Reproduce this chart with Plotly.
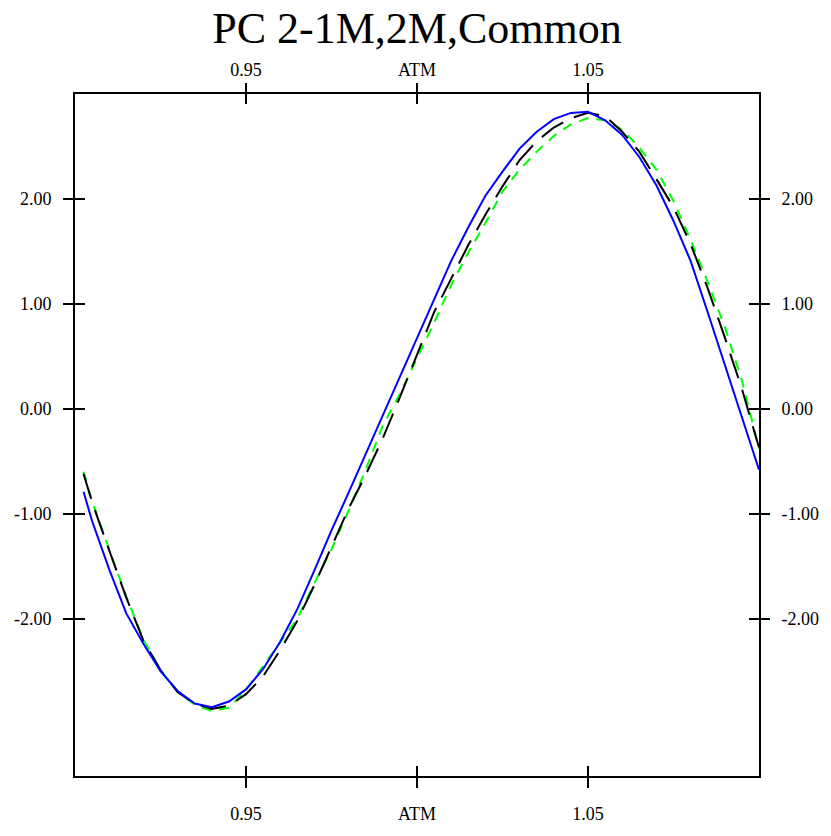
import plotly.graph_objects as go

# x grid (moneyness)
x_vals = [0.9025, 0.905, 0.910, 0.915, 0.920, 0.925, 0.930, 0.935, 0.940, 0.945,
          0.950, 0.955, 0.960, 0.965, 0.970, 0.975, 0.980, 0.985, 0.990, 0.995,
          1.000, 1.005, 1.010, 1.015, 1.020, 1.025, 1.030, 1.035, 1.040, 1.045,
          1.050, 1.055, 1.060, 1.065, 1.070, 1.075, 1.080, 1.085, 1.090, 1.095,
          1.100]

blue_1m = [-0.79, -1.07, -1.53, -1.95, -2.24, -2.50, -2.69, -2.81, -2.845, -2.79,
           -2.675, -2.48, -2.22, -1.91, -1.54, -1.16, -0.80, -0.43, -0.06, 0.31,
           0.68, 1.05, 1.41, 1.73, 2.03, 2.26, 2.48, 2.64, 2.76, 2.82,
           2.83, 2.75, 2.61, 2.40, 2.13, 1.79, 1.41, 0.92, 0.42, -0.07,
           -0.58]

black_2m = [-0.62, -0.89, -1.35, -1.80, -2.21, -2.49, -2.70, -2.81, -2.86, -2.83,
            -2.72, -2.55, -2.30, -2.02, -1.68, -1.32, -0.95, -0.63, -0.28, 0.11,
            0.52, 0.92, 1.24, 1.56, 1.85, 2.12, 2.37, 2.55, 2.68, 2.77,
            2.82, 2.79, 2.64, 2.45, 2.19, 1.92, 1.57, 1.15, 0.68, 0.19,
            -0.37]

green_common = [-0.60, -0.88, -1.34, -1.79, -2.20, -2.49, -2.70, -2.82, -2.88, -2.85,
                -2.68, -2.45, -2.22, -2.00, -1.66, -1.34, -0.97, -0.58, -0.16, 0.14,
                0.48, 0.82, 1.18, 1.49, 1.77, 2.07, 2.28, 2.45, 2.60, 2.71,
                2.77, 2.75, 2.66, 2.49, 2.28, 1.98, 1.61, 1.21, 0.78, 0.27,
                -0.38]

x_tickvals = [0.95, 1.00, 1.05]
x_ticktext = ["0.95", "ATM", "1.05"]
y_tickvals = [-2, -1, 0, 1, 2]
y_ticktext = ["-2.00", "-1.00", "0.00", "1.00", "2.00"]

title_text = "PC 2-1M,2M,Common"

FONT = "Liberation Serif"
X_RANGE = [0.9, 1.1]
Y_RANGE = [-3.5, 3.0]

fig = go.Figure()
fig.add_trace(go.Scatter(x=x_vals, y=green_common, mode="lines", name="Common",
                         line=dict(color="#00FF00", width=2, dash="10px,8px")))
fig.add_trace(go.Scatter(x=x_vals, y=black_2m, mode="lines", name="2M",
                         line=dict(color="black", width=2, dash="26px,12px")))
fig.add_trace(go.Scatter(x=x_vals, y=blue_1m, mode="lines", name="1M",
                         line=dict(color="#0000FF", width=2)))

# invisible carrier traces so the extra (tick-only / mirrored label) axes get drawn
for xa, ya in [("x2", "y2"), ("x3", "y3"), ("x4", "y4")]:
    fig.add_trace(go.Scatter(x=x_vals, y=blue_1m, mode="lines", xaxis=xa, yaxis=ya,
                             line=dict(width=0, color="rgba(0,0,0,0)"),
                             hoverinfo="skip", showlegend=False))

tickfont = dict(family=FONT, size=18, color="black")
common_x = dict(range=X_RANGE, tickvals=x_tickvals, ticktext=x_ticktext, ticklen=10,
                tickwidth=2, tickcolor="black", showgrid=False, zeroline=False,
                tickfont=tickfont, fixedrange=True)
common_y = dict(range=Y_RANGE, tickvals=y_tickvals, ticktext=y_ticktext, ticklen=10,
                tickwidth=2, tickcolor="black", showgrid=False, zeroline=False,
                tickfont=tickfont, fixedrange=True)

fig.update_layout(
    width=831, height=836,
    margin=dict(l=75, r=61, t=94, b=47),
    paper_bgcolor="white", plot_bgcolor="white",
    showlegend=False,
    title=dict(text=title_text, x=0.5, xref="paper", xanchor="center",
               y=1 - 28 / 836, yref="container", yanchor="middle",
               font=dict(family=FONT, size=44, color="black")),
    xaxis=dict(side="bottom", ticks="outside", showline=True,
               linewidth=2, linecolor="black", mirror=True, ticklabelstandoff=10,
               **common_x),
    xaxis2=dict(overlaying="x", anchor="y", side="top",
                ticks="outside", showline=False, ticklabelstandoff=0, **common_x),
    xaxis3=dict(overlaying="x", anchor="y", side="bottom",
                ticks="inside", showline=False, showticklabels=False, **common_x),
    xaxis4=dict(overlaying="x", anchor="y", side="top",
                ticks="inside", showline=False, showticklabels=False, **common_x),
    yaxis=dict(side="left", ticks="outside", showline=True,
               linewidth=2, linecolor="black", mirror=True, ticklabelstandoff=8,
               **common_y),
    yaxis2=dict(overlaying="y", anchor="x", side="right",
                ticks="outside", showline=False, ticklabelstandoff=8, **common_y),
    yaxis3=dict(overlaying="y", anchor="x", side="left",
                ticks="inside", showline=False, showticklabels=False, **common_y),
    yaxis4=dict(overlaying="y", anchor="x", side="right",
                ticks="inside", showline=False, showticklabels=False, **common_y),
)

post_js = (
    "document.documentElement.style.margin='0';"
    "document.documentElement.style.overflow='hidden';"
    "document.body.style.margin='0';"
    "document.body.style.overflow='hidden';"
)

fig.write_html("out.html", config={"displayModeBar": False}, post_script=post_js)
